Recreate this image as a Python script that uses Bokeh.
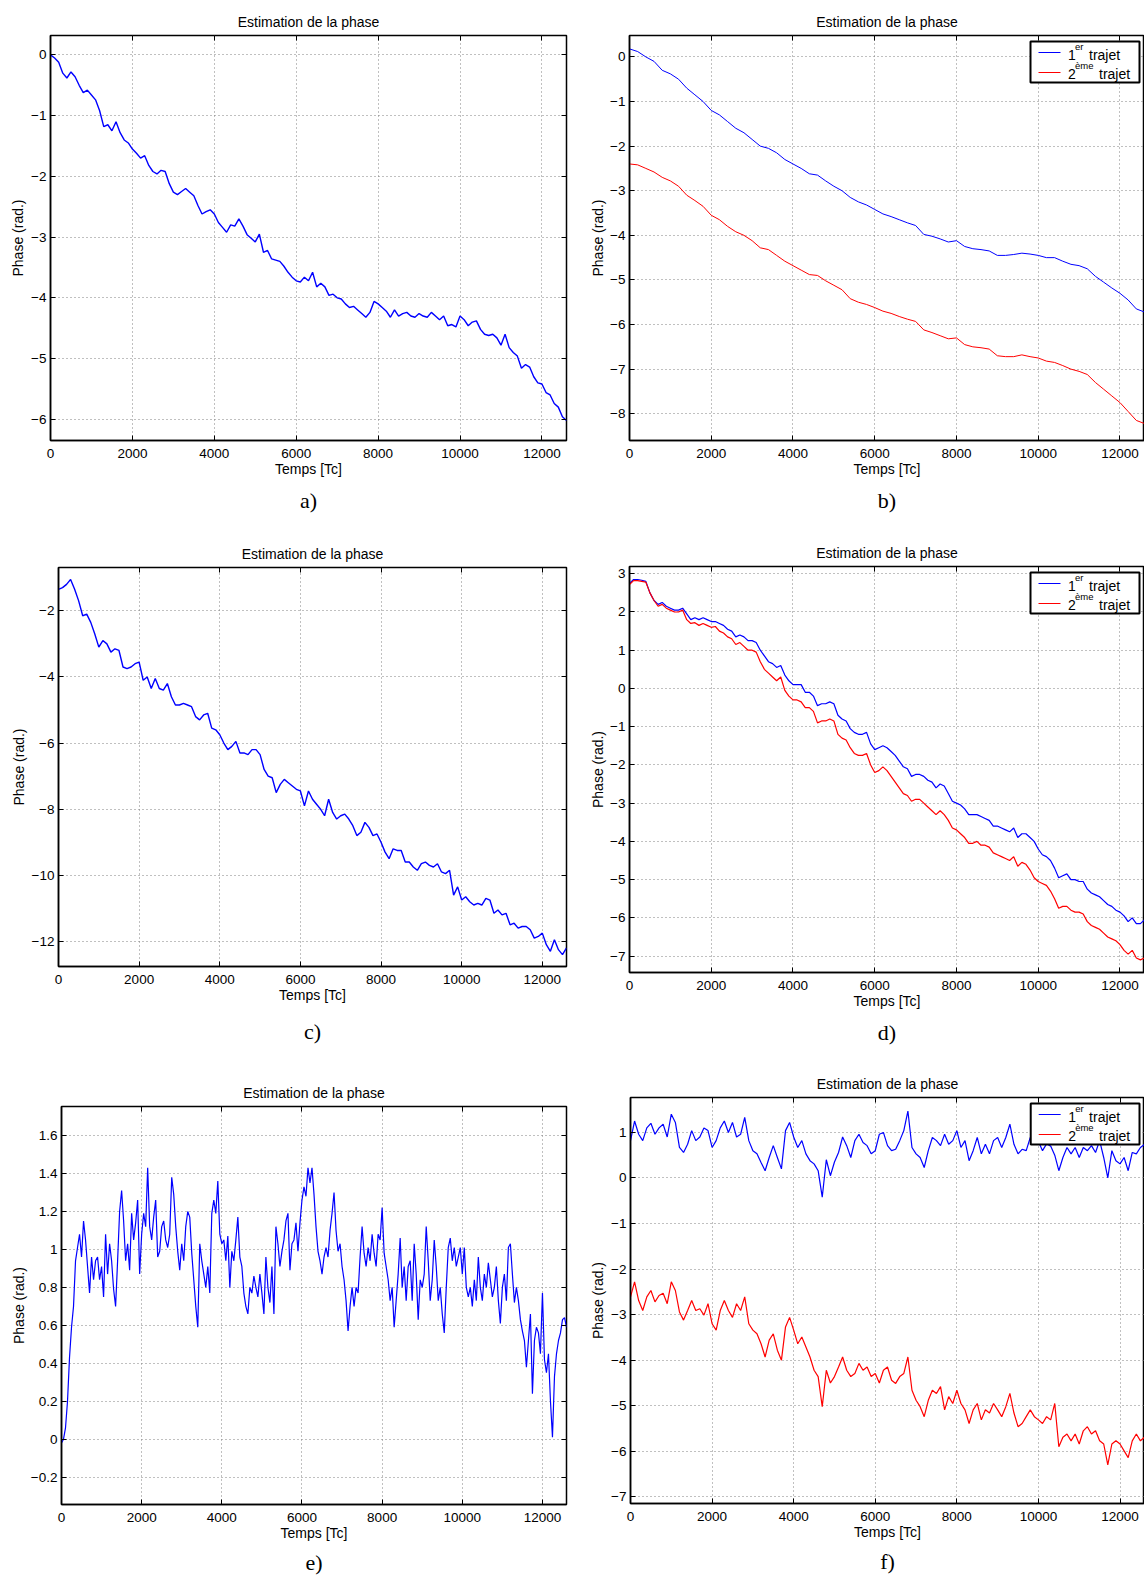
from bokeh.plotting import figure
from bokeh.layouts import row, column
from bokeh.models import (Range1d, FixedTicker, Title, BoxAnnotation, Label, Arrow,
                          LinearAxis, CustomJSTickFormatter)
from bokeh.embed import file_html
from bokeh.resources import INLINE

# ---------------- data ----------------
X_TICKS = [0, 2000, 4000, 6000, 8000, 10000, 12000]
X_END = 12600

A_STEP = 100
A_PHASE = [
    0.00, -0.05, -0.12, -0.30, -0.38, -0.28, -0.36, -0.50, -0.62, -0.58,
    -0.66, -0.74, -0.92, -1.18, -1.15, -1.25, -1.10, -1.28, -1.40, -1.45,
    -1.55, -1.62, -1.70, -1.66, -1.82, -1.92, -1.96, -1.90, -1.92, -2.12,
    -2.26, -2.30, -2.25, -2.20, -2.26, -2.32, -2.48, -2.62, -2.58, -2.55,
    -2.62, -2.76, -2.84, -2.92, -2.80, -2.82, -2.70, -2.82, -2.96, -3.02,
    -3.08, -2.95, -3.25, -3.22, -3.36, -3.38, -3.40, -3.48, -3.58, -3.66,
    -3.72, -3.74, -3.66, -3.72, -3.58, -3.82, -3.76, -3.82, -3.96, -3.94,
    -4.00, -4.02, -4.10, -4.16, -4.14, -4.20, -4.26, -4.32, -4.24, -4.06,
    -4.10, -4.16, -4.22, -4.32, -4.20, -4.30, -4.26, -4.24, -4.30, -4.32,
    -4.26, -4.30, -4.32, -4.24, -4.30, -4.36, -4.30, -4.46, -4.44, -4.48,
    -4.30, -4.36, -4.46, -4.40, -4.38, -4.52, -4.60, -4.62, -4.60, -4.66,
    -4.78, -4.60, -4.82, -4.90, -4.96, -5.16, -5.10, -5.14, -5.30, -5.40,
    -5.42, -5.56, -5.60, -5.74, -5.80, -5.96, -6.02,
]
A_YTICKS = [-6, -5, -4, -3, -2, -1, 0]

B_STEP = 200
B_TRAJET1 = [
    0.18, 0.12, 0.00, -0.10, -0.30, -0.38, -0.50, -0.70, -0.85, -1.00,
    -1.20, -1.30, -1.45, -1.60, -1.70, -1.85, -2.00, -2.05, -2.15, -2.30,
    -2.40, -2.50, -2.62, -2.65, -2.78, -2.90, -3.00, -3.15, -3.25, -3.32,
    -3.42, -3.52, -3.58, -3.65, -3.72, -3.78, -3.98, -4.02, -4.08, -4.15,
    -4.12, -4.25, -4.30, -4.32, -4.35, -4.45, -4.45, -4.43, -4.40, -4.42,
    -4.45, -4.50, -4.50, -4.58, -4.65, -4.68, -4.75, -4.92, -5.05, -5.18,
    -5.30, -5.45, -5.65, -5.72,
]
B_TRAJET2 = [
    -2.40, -2.42, -2.50, -2.58, -2.70, -2.78, -2.90, -3.10, -3.22, -3.35,
    -3.55, -3.65, -3.80, -3.92, -4.00, -4.12, -4.28, -4.32, -4.45, -4.58,
    -4.68, -4.78, -4.88, -4.90, -5.02, -5.12, -5.22, -5.42, -5.50, -5.55,
    -5.62, -5.70, -5.75, -5.82, -5.88, -5.93, -6.12, -6.18, -6.25, -6.32,
    -6.30, -6.45, -6.50, -6.52, -6.55, -6.70, -6.72, -6.72, -6.68, -6.72,
    -6.75, -6.82, -6.85, -6.92, -7.00, -7.05, -7.12, -7.30, -7.45, -7.60,
    -7.75, -7.95, -8.15, -8.22,
]
B_YTICKS = [-8, -7, -6, -5, -4, -3, -2, -1, 0]

C_STEP = 100
C_PHASE = [
    -1.35, -1.30, -1.20, -1.05, -1.35, -1.70, -2.15, -2.10, -2.35, -2.70,
    -3.10, -2.90, -3.00, -3.25, -3.15, -3.20, -3.70, -3.75, -3.70, -3.60,
    -3.55, -4.10, -4.00, -4.35, -4.05, -4.35, -4.40, -4.20, -4.60, -4.85,
    -4.85, -4.80, -4.85, -4.90, -5.20, -5.30, -5.15, -5.10, -5.55, -5.60,
    -5.75, -6.00, -6.20, -6.10, -5.95, -6.30, -6.30, -6.35, -6.20, -6.20,
    -6.35, -6.80, -7.00, -7.05, -7.50, -7.25, -7.10, -7.20, -7.30, -7.40,
    -7.45, -7.90, -7.45, -7.70, -7.85, -8.00, -8.20, -7.70, -8.10, -8.30,
    -8.20, -8.15, -8.30, -8.50, -8.80, -8.70, -8.40, -8.55, -8.80, -8.75,
    -9.00, -9.30, -9.50, -9.20, -9.25, -9.25, -9.60, -9.60, -9.75, -9.85,
    -9.65, -9.60, -9.70, -9.75, -9.65, -9.90, -9.95, -9.85, -10.60, -10.35,
    -10.75, -10.65, -10.80, -10.90, -10.85, -10.90, -10.70, -10.75, -11.15, -11.05,
    -11.20, -11.15, -11.50, -11.45, -11.60, -11.55, -11.55, -11.65, -11.90, -11.85,
    -11.75, -12.10, -12.30, -11.95, -12.25, -12.40, -12.20,
]
C_YTICKS = [-12, -10, -8, -6, -4, -2]

D_STEP = 100
D_TRAJET1 = [
    2.75, 2.85, 2.85, 2.83, 2.80, 2.50, 2.30, 2.20, 2.25, 2.15,
    2.10, 2.05, 2.05, 2.10, 1.95, 1.80, 1.85, 1.80, 1.85, 1.80,
    1.75, 1.75, 1.70, 1.65, 1.55, 1.50, 1.35, 1.40, 1.35, 1.25,
    1.25, 1.20, 1.00, 0.85, 0.70, 0.65, 0.55, 0.60, 0.35, 0.20,
    0.10, 0.10, 0.10, -0.10, -0.10, -0.20, -0.45, -0.40, -0.40, -0.35,
    -0.40, -0.70, -0.80, -0.85, -1.05, -1.15, -1.20, -1.20, -1.15, -1.45,
    -1.60, -1.55, -1.50, -1.55, -1.65, -1.75, -1.90, -2.05, -2.10, -2.30,
    -2.25, -2.25, -2.30, -2.40, -2.45, -2.60, -2.50, -2.55, -2.75, -2.95,
    -3.00, -3.05, -3.15, -3.30, -3.30, -3.30, -3.35, -3.40, -3.45, -3.60,
    -3.60, -3.65, -3.70, -3.75, -3.65, -3.90, -3.80, -3.80, -3.90, -4.00,
    -4.20, -4.35, -4.40, -4.50, -4.70, -4.95, -4.90, -4.85, -5.00, -5.00,
    -5.05, -5.05, -5.25, -5.35, -5.40, -5.45, -5.55, -5.65, -5.70, -5.80,
    -5.85, -5.95, -6.10, -6.00, -6.15, -6.15, -6.05,
]
D_TRAJET2 = [
    2.72, 2.82, 2.82, 2.80, 2.78, 2.50, 2.30, 2.15, 2.20, 2.10,
    2.05, 2.00, 2.00, 2.05, 1.80, 1.70, 1.72, 1.65, 1.70, 1.65,
    1.60, 1.62, 1.50, 1.45, 1.35, 1.30, 1.15, 1.20, 1.10, 1.00,
    1.00, 0.95, 0.70, 0.50, 0.40, 0.30, 0.20, 0.30, -0.05, -0.20,
    -0.30, -0.30, -0.35, -0.50, -0.50, -0.60, -0.90, -0.85, -0.85, -0.80,
    -0.85, -1.20, -1.30, -1.35, -1.55, -1.70, -1.75, -1.75, -1.70, -2.00,
    -2.20, -2.15, -2.05, -2.15, -2.30, -2.45, -2.60, -2.75, -2.80, -2.95,
    -2.90, -2.90, -3.00, -3.10, -3.20, -3.30, -3.20, -3.30, -3.45, -3.65,
    -3.70, -3.80, -3.90, -4.05, -4.05, -4.00, -4.10, -4.10, -4.15, -4.30,
    -4.35, -4.40, -4.45, -4.50, -4.40, -4.65, -4.55, -4.60, -4.75, -4.95,
    -5.05, -5.10, -5.15, -5.30, -5.50, -5.75, -5.70, -5.70, -5.80, -5.85,
    -5.85, -5.90, -6.10, -6.20, -6.25, -6.30, -6.40, -6.50, -6.55, -6.60,
    -6.70, -6.85, -6.95, -6.85, -7.05, -7.10, -7.05,
]
D_YTICKS = [-7, -6, -5, -4, -3, -2, -1, 0, 1, 2, 3]

E_STEP = 50
E_PHASE = [
    -0.02, 0.00, 0.06, 0.20, 0.43, 0.59, 0.70, 0.94, 1.01, 1.08,
    0.96, 1.15, 1.05, 0.91, 0.77, 0.96, 0.84, 0.94, 0.96, 0.84,
    0.91, 0.75, 1.08, 0.87, 1.03, 0.94, 0.79, 0.70, 0.94, 1.20,
    1.31, 1.15, 0.94, 1.03, 0.89, 1.19, 1.05, 1.14, 1.26, 0.87,
    1.08, 1.19, 1.12, 1.43, 1.12, 1.05, 1.17, 1.26, 0.96, 0.99,
    1.12, 1.15, 1.05, 1.01, 1.08, 1.38, 1.29, 1.12, 0.99, 0.89,
    1.03, 0.94, 1.12, 1.20, 1.17, 0.98, 0.84, 0.70, 0.59, 1.03,
    0.94, 0.87, 0.80, 0.91, 0.77, 1.19, 1.26, 1.19, 1.36, 1.08,
    1.03, 1.05, 0.94, 1.07, 0.80, 0.99, 0.94, 1.05, 1.17, 0.96,
    0.91, 0.77, 0.70, 0.66, 0.80, 0.77, 0.86, 0.80, 0.75, 0.87,
    0.77, 0.66, 0.96, 0.80, 0.72, 0.91, 0.66, 1.12, 1.03, 0.91,
    0.99, 1.05, 1.15, 1.19, 0.89, 1.03, 1.05, 1.14, 0.99, 1.14,
    1.26, 1.33, 1.28, 1.43, 1.35, 1.43, 1.29, 1.12, 0.99, 0.94,
    0.87, 0.96, 1.01, 0.96, 1.10, 1.19, 1.30, 1.10, 0.99, 1.03,
    0.91, 0.84, 0.73, 0.57, 0.70, 0.80, 0.70, 0.80, 0.77, 0.96,
    1.12, 0.98, 0.91, 1.01, 0.94, 1.08, 0.98, 0.91, 1.08, 1.05,
    1.22, 0.98, 0.91, 0.84, 0.73, 0.80, 0.59, 0.73, 0.87, 1.06,
    0.80, 0.91, 0.73, 0.91, 0.94, 0.73, 1.03, 0.87, 0.63, 0.84,
    0.80, 0.87, 1.12, 0.94, 0.73, 0.84, 1.05, 0.91, 0.73, 0.80,
    0.66, 0.56, 0.80, 1.01, 1.06, 0.94, 1.01, 0.91, 0.96, 1.01,
    0.87, 1.01, 0.80, 0.75, 0.80, 0.70, 0.84, 0.73, 0.96, 0.80,
    0.73, 0.87, 0.80, 0.93, 0.84, 0.75, 0.80, 0.91, 0.73, 0.61,
    0.80, 0.87, 0.73, 1.01, 1.03, 0.87, 0.72, 0.80, 0.73, 0.63,
    0.57, 0.52, 0.38, 0.52, 0.66, 0.24, 0.52, 0.59, 0.56, 0.45,
    0.77, 0.42, 0.35, 0.45, 0.20, 0.01, 0.33, 0.45, 0.52, 0.56,
    0.63, 0.64, 0.59,
]
E_YTICKS = [-0.2, 0, 0.2, 0.4, 0.6, 0.8, 1, 1.2, 1.4, 1.6]

F_STEP = 100
F_TRAJET1 = [
    0.82, 1.25, 0.96, 0.82, 1.10, 1.20, 0.96, 1.10, 1.18, 0.90,
    1.40, 1.22, 0.67, 0.56, 0.74, 1.04, 0.82, 0.90, 1.10, 1.04,
    0.67, 0.82, 1.10, 1.25, 1.00, 1.22, 0.90, 0.96, 1.33, 0.82,
    0.60, 0.53, 0.34, 0.16, 0.45, 0.71, 0.45, 0.20, 1.04, 1.22,
    0.90, 0.67, 0.82, 0.53, 0.38, 0.31, 0.16, -0.42, 0.40, 0.05,
    0.35, 0.56, 0.90, 0.71, 0.45, 0.82, 0.96, 0.78, 0.71, 0.53,
    0.60, 0.96, 1.00, 0.71, 0.60, 0.63, 0.82, 1.04, 1.47, 0.67,
    0.53, 0.45, 0.23, 0.60, 0.89, 0.82, 0.71, 0.96, 0.74, 0.82,
    1.04, 0.67, 0.82, 0.38, 0.60, 0.89, 0.53, 0.74, 0.53, 0.82,
    0.89, 0.67, 0.89, 1.18, 0.74, 0.53, 0.63, 0.60, 0.89, 0.82,
    0.80, 0.60, 0.75, 0.70, 0.50, 0.16, 0.45, 0.67, 0.53, 0.67,
    0.45, 0.67, 0.60, 0.71, 0.56, 0.82, 0.45, 0.00, 0.60, 0.38,
    0.31, 0.45, 0.16, 0.56, 0.53, 0.67, 0.74,
]
F_TRAJET2 = [
    -2.61, -2.28, -2.69, -2.91, -2.61, -2.47, -2.72, -2.58, -2.53, -2.76,
    -2.28, -2.47, -2.94, -3.12, -2.91, -2.69, -2.91, -2.87, -3.01, -2.76,
    -3.20, -3.34, -2.91, -2.69, -2.91, -3.06, -2.76, -2.91, -2.61, -3.20,
    -3.34, -3.42, -3.64, -3.93, -3.56, -3.42, -3.78, -4.00, -3.27, -3.06,
    -3.34, -3.64, -3.49, -3.71, -3.93, -4.22, -4.36, -5.02, -4.22, -4.50,
    -4.36, -4.15, -3.93, -4.22, -4.36, -4.29, -4.07, -4.22, -4.15, -4.36,
    -4.29, -4.50, -4.22, -4.15, -4.44, -4.51, -4.36, -4.29, -3.93, -4.66,
    -4.88, -5.02, -5.24, -4.88, -4.66, -4.73, -4.58, -5.09, -4.80, -4.95,
    -4.66, -4.95, -5.09, -5.39, -5.09, -4.95, -5.31, -5.09, -5.16, -4.95,
    -5.09, -5.24, -5.02, -4.73, -5.16, -5.46, -5.39, -5.24, -5.09, -5.24,
    -5.31, -5.39, -5.24, -5.31, -4.95, -5.90, -5.69, -5.62, -5.77, -5.62,
    -5.84, -5.55, -5.46, -5.62, -5.55, -5.77, -5.84, -6.30, -5.84, -5.77,
    -5.84, -5.99, -6.14, -5.77, -5.62, -5.77, -5.69,
]
F_YTICKS = [-7, -6, -5, -4, -3, -2, -1, 0, 1]

TITLE = "Estimation de la phase"
XLABEL = "Temps [Tc]"
YLABEL = "Phase (rad.)"
LEG1 = ("1", "er", "trajet")
LEG2 = ("2", "ème", "trajet")

SANS = "Liberation Sans"
SERIF = "Liberation Serif"


def temps(vals, step):
    return [i * step for i in range(len(vals))]


def lab(t):
    return ("%g" % t).replace("-", "\u2212")


def tick_only_axis(ticker):
    ax = LinearAxis(ticker=ticker,
                    formatter=CustomJSTickFormatter(code="return ''"))
    ax.major_tick_in = 5
    ax.major_tick_out = 0
    ax.major_tick_line_color = "black"
    ax.minor_tick_line_color = None
    ax.axis_line_color = None
    ax.major_label_text_font_size = "0px"
    ax.major_label_standoff = 0
    return ax


def make_fig(yr, yticks, width, height, bl, br, bt, bb, caption,
             cap_standoff, ylab_standoff, right_ticks):
    p = figure(width=width, height=height,
               x_range=Range1d(0, X_END), y_range=Range1d(*yr),
               output_backend="svg", toolbar_location=None,
               min_border_left=bl, min_border_right=br,
               min_border_top=bt, min_border_bottom=bb,
               background_fill_color="white", border_fill_color="white")
    p.title.text = TITLE
    p.title.align = "center"
    p.title.text_font = SANS
    p.title.text_font_size = "14px"
    p.title.text_font_style = "normal"
    p.title.text_color = "black"
    p.title.standoff = 11
    p.outline_line_color = "black"
    p.outline_line_width = 1.5
    p.outline_line_alpha = 1

    xt = FixedTicker(ticks=X_TICKS)
    yt = FixedTicker(ticks=yticks)
    p.xaxis.ticker = xt
    p.yaxis.ticker = yt
    p.xgrid.ticker = xt
    p.ygrid.ticker = yt
    p.xaxis.major_label_overrides = {t: lab(t) for t in X_TICKS}
    p.yaxis.major_label_overrides = {t: lab(t) for t in yticks}
    p.xaxis.axis_label = XLABEL
    p.yaxis.axis_label = YLABEL
    for ax in (p.xaxis[0], p.yaxis[0]):
        ax.major_tick_in = 5
        ax.major_tick_out = 0
        ax.major_tick_line_color = "black"
        ax.minor_tick_line_color = None
        ax.axis_line_color = "black"
        ax.axis_line_width = 1.5
        ax.major_label_text_font = SANS
        ax.major_label_text_font_size = "13.5px"
        ax.major_label_text_color = "black"
        ax.axis_label_text_font = SANS
        ax.axis_label_text_font_size = "14px"
        ax.axis_label_text_font_style = "normal"
        ax.axis_label_text_color = "black"
    p.xaxis.major_label_standoff = 8
    p.xaxis.axis_label_standoff = 0
    p.yaxis.major_label_standoff = 4
    p.yaxis.axis_label_standoff = ylab_standoff
    for g in (p.xgrid[0], p.ygrid[0]):
        g.grid_line_color = "#808080"
        g.grid_line_dash = "1 3"
        g.grid_line_width = 1
    p.add_layout(tick_only_axis(xt), "above")
    if right_ticks:
        p.add_layout(tick_only_axis(yt), "right")
    p.add_layout(Title(text=caption, align="center", text_font=SERIF,
                       text_font_size="22px", text_font_style="normal",
                       text_color="black", standoff=cap_standoff), "below")
    return p


def add_legend(p, yr, fw, fh):
    x0, x1 = 0, X_END
    y0, y1 = yr

    def X(px):
        return x0 + px / fw * (x1 - x0)

    def Y(py):
        return y1 - py / fh * (y1 - y0)

    bl = fw - 5 - 109
    bt = 6
    p.add_layout(BoxAnnotation(left=X(bl), right=X(bl + 109), top=Y(bt),
                               bottom=Y(bt + 41), fill_color="white",
                               fill_alpha=1, line_color="black",
                               line_width=2, line_alpha=1))
    for (main, sup, word), color, dl, dt, wx in (
            (LEG1, "blue", 0, 0, 58.5), (LEG2, "red", 20, 19.5, 68.5)):
        p.add_layout(Arrow(end=None, x_start=X(bl + 8), y_start=Y(bt + 11 + dl),
                           x_end=X(bl + 30), y_end=Y(bt + 11 + dl),
                           line_color=color, line_width=1))
        p.add_layout(Label(x=X(bl + 37.5), y=Y(bt + 13 + dt), text=main,
                           text_font=SANS, text_font_size="14px",
                           text_baseline="alphabetic", text_align="left",
                           text_color="black"))
        p.add_layout(Label(x=X(bl + 44.5), y=Y(bt + 4.7 + dt), text=sup,
                           text_font=SANS, text_font_size="9.5px",
                           text_baseline="alphabetic", text_align="left",
                           text_color="black"))
        p.add_layout(Label(x=X(bl + wx), y=Y(bt + 13 + dt), text=word,
                           text_font=SANS, text_font_size="14px",
                           text_baseline="alphabetic", text_align="left",
                           text_color="black"))


LW_NOISY = 1.4
LW_SMOOTH = 1.0

# ---- a ----  (figure 0..587 x 0..530; frame 50..566 x 35..440)
A_YR = (-6.35, 0.32)
pa = make_fig(A_YR, A_YTICKS, 587, 530, 50, 21, 35, 90, "a)", 12, 2, True)
pa.line(temps(A_PHASE, A_STEP), A_PHASE, line_color="blue", line_width=LW_NOISY)

# ---- b ----  (figure 587..1144; frame 629..1144)
B_YR = (-8.6, 0.48)
pb = make_fig(B_YR, B_YTICKS, 557, 530, 42, 0, 35, 90, "b)", 12, 1, False)
pb.line(temps(B_TRAJET1, B_STEP), B_TRAJET1, line_color="blue", line_width=LW_SMOOTH)
pb.line(temps(B_TRAJET2, B_STEP), B_TRAJET2, line_color="red", line_width=LW_SMOOTH)
add_legend(pb, B_YR, 515, 405)

# ---- c ----
C_YR = (-12.76, -0.69)
pc = make_fig(C_YR, C_YTICKS, 587, 535, 58, 21, 37, 99, "c)", 22, 2, True)
pc.line(temps(C_PHASE, C_STEP), C_PHASE, line_color="blue", line_width=LW_NOISY)

# ---- d ----
D_YR = (-7.43, 3.19)
pd_ = make_fig(D_YR, D_YTICKS, 557, 535, 42, 0, 36, 93, "d)", 12, 1, False)
pd_.line(temps(D_TRAJET1, D_STEP), D_TRAJET1, line_color="blue", line_width=1.2)
pd_.line(temps(D_TRAJET2, D_STEP), D_TRAJET2, line_color="red", line_width=1.2)
add_legend(pd_, D_YR, 515, 406)

# ---- e ----
E_YR = (-0.344, 1.753)
pe = make_fig(E_YR, E_YTICKS, 587, 513, 61, 21, 41, 74, "e)", 8, 1, True)
pe.line(temps(E_PHASE, E_STEP), E_PHASE, line_color="blue", line_width=1.2)

# ---- f ----
F_YR = (-7.146, 1.767)
pf = make_fig(F_YR, F_YTICKS, 557, 513, 42, 0, 32, 75, "f)", 8, 2, False)
pf.line(temps(F_TRAJET1, F_STEP), F_TRAJET1, line_color="blue", line_width=1.2)
pf.line(temps(F_TRAJET2, F_STEP), F_TRAJET2, line_color="red", line_width=1.2)
add_legend(pf, F_YR, 515, 406)

layout = column(row(column(pa), column(pb)),
                row(column(pc), column(pd_)),
                row(column(pe), column(pf)))
open("out.html", "w").write(file_html(layout, INLINE))
